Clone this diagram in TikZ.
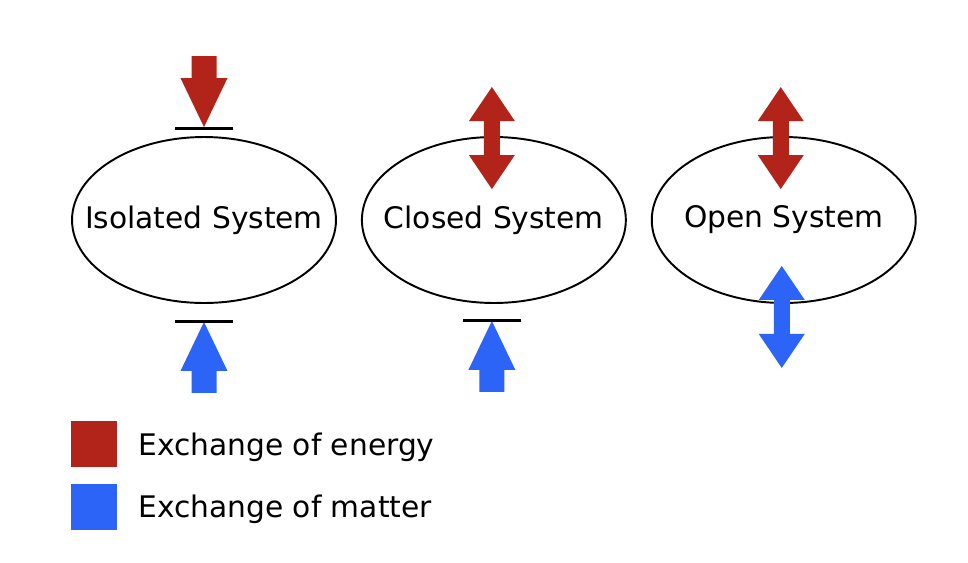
\documentclass[tikz,border=0pt]{standalone}
\usepackage{fontspec}
\setmainfont{DejaVu Sans}
\usetikzlibrary{positioning,calc,shapes.geometric}
\definecolor{ink}{HTML}{000000}
\definecolor{energy}{HTML}{B2241A}
\definecolor{matter}{HTML}{2B64F7}

\begin{document}
\begin{tikzpicture}[x=0.02cm,y=-0.02cm,node distance=0.48cm]
    \tikzset{
      system/.style={ellipse,draw=ink,line width=1.1pt,minimum width=5.28cm,minimum height=3.32cm,inner ysep=0pt,inner xsep=-0.7cm,font=\fontsize{16.9}{20}\selectfont},
      barrier/.style={draw=ink,line width=1.7pt},
      swatch/.style={minimum size=0.92cm,inner sep=0pt},
      keytext/.style={anchor=base west,inner sep=0pt,font=\fontsize{16.9}{20}\selectfont},
      onearrow/.pic={\fill (0,0) -- (23.5,49) -- (12.5,49) -- (12.5,71) -- (-12.5,71) -- (-12.5,49) -- (-23.5,49) -- cycle;},
      twoarrow/.pic={\fill (0,-51) -- (23,-17) -- (8,-17) -- (8,17) -- (23,17) -- (0,51) -- (-23,17) -- (-8,17) -- (-8,-17) -- (-23,-17) -- cycle;}
    }
    \useasboundingbox (0,0) rectangle (968,562);
    \node[system] (isolated) at (204,220) {Isolated System};
    \node[system,right=of isolated] (closed) {Closed System};
    \node[system,right=of closed] (open) {Open System};
    % isolated: walls block both
    \pic[fill=energy,rotate=180] at ($(isolated.north)+(0,-9)$) {onearrow};
    \draw[barrier] ($(isolated.north)+(-29,-8)$) -- ++(58,0);
    \pic[fill=matter] at ($(isolated.south)+(0,18)$) {onearrow};
    \draw[barrier] ($(isolated.south)+(-29,18)$) -- ++(58,0);
    % closed: energy passes
    \pic[fill=energy] at ($(closed.north)+(-2,2)$) {twoarrow};
    \pic[fill=matter] at ($(closed.south)+(-2,17)$) {onearrow};
    \draw[barrier] ($(closed.south)+(-31,17)$) -- ++(58,0);
    % open: both pass
    \pic[fill=energy] at ($(open.north)+(-3,2)$) {twoarrow};
    \pic[fill=matter] at ($(open.south)+(-2,13)$) {twoarrow};
    % legend
    \node[swatch,fill=energy] (energykey) at (94,443.5) {};
    \node[swatch,fill=matter,below=0.34cm of energykey] (matterkey) {};
    \node[keytext] (energylabel) at (138,455) {Exchange of energy};
    \node[keytext] (matterlabel) at (138,517) {Exchange of matter};
  \end{tikzpicture}
\end{document}
